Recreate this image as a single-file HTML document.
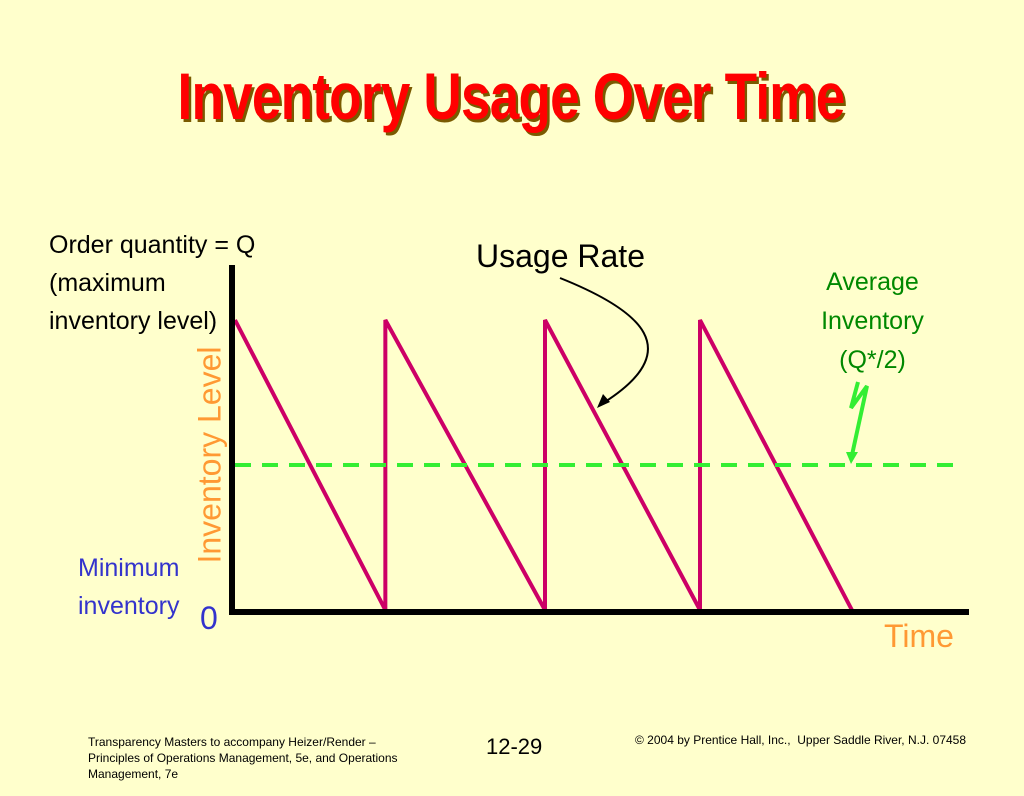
<!DOCTYPE html>
<html><head><meta charset="utf-8">
<style>
html,body{margin:0;padding:0;}
body{width:1024px;height:796px;background:#FFFFCC;position:relative;overflow:hidden;font-family:"Liberation Sans",sans-serif;}
.t{position:absolute;white-space:nowrap;}
</style></head>
<body>
<div class="t" style="left:511px;top:58px;font-weight:bold;font-size:66px;color:#FF0000;transform:translateX(-50%) scaleX(0.805);transform-origin:center;text-shadow:3px 3px 0 #7a5a00;letter-spacing:-1px;">Inventory Usage Over Time</div>
<svg width="1024" height="796" style="position:absolute;left:0;top:0">
<g id="marks"></g>
<path d="M560,278 C640,310 690,350 600,405" fill="none" stroke="#000" stroke-width="2"/>
<polygon points="597,408 603,394 610,402" fill="#000"/>
<path d="M858,382 L851,408 L867,386 L852,455" fill="none" stroke="#33EE33" stroke-width="4"/>
<polygon points="846,452 858,452 851,464" fill="#33EE33"/>
</svg>
<div class="t" style="left:49px;top:226px;font-size:25px;line-height:38px;color:#000;">Order quantity = Q<br>(maximum<br>inventory level)</div>
<div class="t" style="left:476px;top:238px;font-size:32px;color:#000;">Usage Rate</div>
<div class="t" style="left:800px;top:263px;width:145px;text-align:center;font-size:25px;line-height:39px;color:#008800;">Average<br>Inventory<br>(Q*/2)</div>
<div class="t" style="left:210px;top:455px;font-size:32px;color:#FF9933;transform:translate(-50%,-50%) rotate(-90deg);">Inventory Level</div>
<div class="t" style="left:78px;top:549px;font-size:25px;line-height:38px;color:#3333CC;text-align:center;">Minimum<br>inventory</div>
<div class="t" style="left:200px;top:600px;font-size:32px;color:#3333CC;">0</div>
<div class="t" style="left:884px;top:618px;font-size:32px;color:#FF9933;">Time</div>
<div class="t" style="left:88px;top:734px;font-size:12px;line-height:16px;color:#000;">Transparency Masters to accompany Heizer/Render –<br>Principles of Operations Management, 5e, and Operations<br>Management, 7e</div>
<div class="t" style="left:486px;top:734px;font-size:22px;color:#000;">12-29</div>
<div class="t" style="left:635px;top:733px;font-size:12px;color:#000;">© 2004 by Prentice Hall, Inc.,&nbsp; Upper Saddle River, N.J. 07458</div>
<script>
const cycleStarts=[0,0.97,2.0,3.0];
const cycleEnds=[0.97,2.0,3.0,3.98];
const maxLevel=1;
const avgLevel=0.5;
const xs=t=>235+t*155;
const ys=v=>610-v*290;
const g=document.getElementById('marks');
const NS='http://www.w3.org/2000/svg';
function mk(tag,attrs){const e=document.createElementNS(NS,tag);for(const k in attrs)e.setAttribute(k,attrs[k]);g.appendChild(e);return e;}
let d='';
cycleStarts.forEach((s,i)=>{d+=(i?'L':'M')+xs(s)+','+ys(i?0:maxLevel)+(i?' L'+xs(s)+','+ys(maxLevel):'')+' L'+xs(cycleEnds[i])+','+ys(0)+' ';});
const saw=mk('path',{d:d,fill:'none',stroke:'#CC0066','stroke-width':4,'stroke-linejoin':'miter'});


const avg=mk('line',{x1:xs(0),y1:ys(avgLevel),x2:960,y2:ys(avgLevel),stroke:'#33EE33','stroke-width':4,'stroke-dasharray':'16,11'});


const ya=mk('line',{x1:232,y1:265,x2:232,y2:614,stroke:'#000','stroke-width':6});


const xa=mk('line',{x1:229,y1:612,x2:969,y2:612,stroke:'#000','stroke-width':6});


</script>
</body></html>
